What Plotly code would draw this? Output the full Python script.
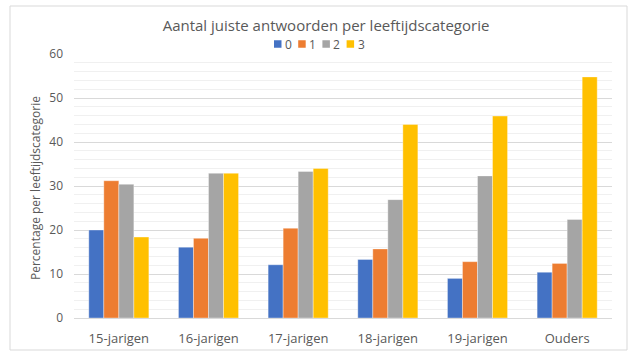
import plotly.graph_objects as go

categories = ["15-jarigen", "16-jarigen", "17-jarigen", "18-jarigen", "19-jarigen", "Ouders"]
series_names = ["0", "1", "2", "3"]
values_0 = [20.0, 16.1, 12.1, 13.3, 9.0, 10.4]
values_1 = [31.2, 18.1, 20.4, 15.7, 12.8, 12.4]
values_2 = [30.4, 32.9, 33.3, 26.9, 32.3, 22.4]
values_3 = [18.4, 32.9, 34.0, 44.0, 45.9, 54.8]
colors = ["#4472C4", "#ED7D31", "#A5A5A5", "#FFC000"]
y_ticks = [0, 10, 20, 30, 40, 50, 60]

FONT = "Open Sans"
W, H = 633, 358
L, R, T, B = 74, 612, 54, 318
pw, ph = R - L, B - T

def px_x(x):
    return (x - L) / pw

def px_y(y):
    return (B - y) / ph

fig = go.Figure()
for name, vals, col in zip(series_names, [values_0, values_1, values_2, values_3], colors):
    fig.add_trace(go.Bar(name=name, x=categories, y=vals, showlegend=False,
                         marker=dict(color=col, line=dict(width=0.6, color="rgba(255,255,255,0.6)"))))

fig.update_layout(
    width=W, height=H,
    margin=dict(l=L, r=W - R, t=T, b=H - B, pad=0),
    paper_bgcolor="white", plot_bgcolor="white",
    barmode="group", bargap=0.33, bargroupgap=0,
    font=dict(family=FONT, color="#595959", size=12),
    title=dict(text="Aantal juiste antwoorden per leeftijdscategorie", x=326 / W, xanchor="center",
               y=1 - 26 / H, yanchor="middle", xref="container", yref="container",
               font=dict(size=15, color="#595959", family=FONT)),
    showlegend=False,
)
fig.update_yaxes(range=[0, 60], tickvals=y_ticks, showgrid=True, gridcolor="#D9D9D9", gridwidth=1,
                 zeroline=False, showline=False, ticks="", ticklabelstandoff=10,
                 tickfont=dict(size=12, color="#595959"),
                 minor=dict(dtick=2, showgrid=True, gridcolor="#F0F0F0", gridwidth=1))
fig.update_xaxes(showline=True, linecolor="#D9D9D9", linewidth=1, ticks="", ticklabelstandoff=8,
                 tickfont=dict(size=13, color="#595959"))

fig.add_annotation(text="Percentage per leeftijdscategorie", textangle=-90, xref="paper", yref="paper",
                   x=px_x(35), y=px_y(188), xanchor="center", yanchor="middle", showarrow=False,
                   font=dict(size=12, color="#595959", family=FONT))

# legend (drawn manually, compact Excel-style)
leg_x0, leg_step, leg_yc, sq = 274, 24.2, 44, 7.5
for i, (name, col) in enumerate(zip(series_names, colors)):
    x0 = leg_x0 + i * leg_step
    fig.add_shape(type="rect", xref="paper", yref="paper",
                  x0=px_x(x0), x1=px_x(x0 + sq), y0=px_y(leg_yc + sq / 2), y1=px_y(leg_yc - sq / 2),
                  line=dict(width=0), fillcolor=col)
    fig.add_annotation(text=name, xref="paper", yref="paper", x=px_x(x0 + sq + 1.5), y=px_y(leg_yc),
                       xanchor="left", yanchor="middle", showarrow=False,
                       font=dict(size=12, color="#595959", family=FONT))

fig.add_shape(type="rect", xref="paper", yref="paper",
              x0=px_x(10), x1=px_x(627), y0=px_y(350), y1=px_y(6),
              line=dict(color="#D9D9D9", width=1), fillcolor="rgba(0,0,0,0)", layer="below")

fig.write_html("out.html", config={"displayModeBar": False},
               post_script="document.body.style.margin='0';document.body.style.padding='0';")
